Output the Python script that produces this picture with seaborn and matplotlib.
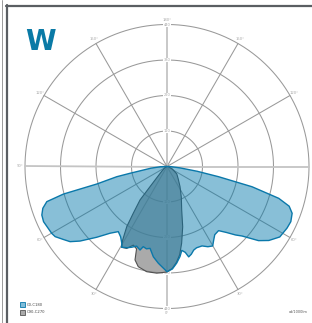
import numpy as np
import matplotlib
matplotlib.use("Agg")
import matplotlib.pyplot as plt
import seaborn as sns
from matplotlib.lines import Line2D
from matplotlib.patches import Rectangle

# ---------------- data ----------------
# C0 half-plane (right side), angle from nadir in degrees -> cd/1000lm
c0_deg = [0, 3, 5.7, 8.2, 10, 12, 13.5, 15.5, 17.7, 20, 23.8, 27, 29.9, 32.4, 35, 38.8,
          42, 45, 47.2, 51, 54, 58, 62.8, 66, 69.5, 72, 74.1, 76.6, 78.8, 81, 84, 88, 90]
c0_cd = [326, 318, 301, 282, 264, 272, 288, 282, 272, 268, 269, 279, 284, 270, 258, 255,
         275, 300, 317, 365, 390, 412, 418, 420, 414, 398, 360, 271, 163, 95, 40, 12, 0]
# C180 half-plane (left side)
c180_deg = [0, 5.1, 8.6, 11.7, 14, 16.5, 17.9, 20.9, 23.6, 26, 28.4, 29.3, 30.5, 33.4, 36.8,
            40.5, 44.8, 49.4, 52.2, 54.9, 57.9, 59.9, 62.5, 65.9, 68.8, 71.4, 73.7, 75.1, 76,
            78.5, 79.6, 84, 88, 90]
c180_cd = [326, 301, 283, 259, 263, 259, 272, 264, 273, 280, 285, 287, 276, 261, 252,
           272, 309, 355, 380, 393, 409, 413, 415, 419, 416, 406, 388, 332, 224,
           159, 117, 50, 20, 0]
# C90 half-plane (right side)
c90_deg = [0, 3, 5.7, 8.2, 10.8, 14.6, 18.7, 25, 33, 42, 53, 65, 80, 90]
c90_cd = [327, 316, 298, 276, 242, 193, 142, 105, 74, 52, 38, 18, 5, 0]
# C270 half-plane (left side)
c270_deg = [0, 5.5, 10.9, 16, 18.9, 20.3, 23.2, 26.2, 29.3, 31.1, 33.8, 35.8, 38.9, 40.1,
            42, 48, 60, 90]
c270_cd = [327, 332, 332, 323, 306, 272, 265, 283, 287, 266, 224, 179, 133, 82,
           50, 22, 8, 0]

ring_values = [110, 220, 330, 440]
angle_ticks = [0, 30, 60, 90, 120, 150, 180]
legend_labels = ["C0-C180", "C90-C270"]
title_text = "W"
unit_text = "cd/1000lm"

# ---------------- style ----------------
sns.set_style("white")
plt.rcParams["font.family"] = ["DejaVu Sans"]

W, H = 312, 323
fig = plt.figure(figsize=(W / 100, H / 100), dpi=100)

cx, cy, rad = 167, 166.5, 142
ax = fig.add_axes([(cx - rad) / W, 1 - (cy + rad) / H, 2 * rad / W, 2 * rad / H],
                  projection="polar")
ax.set_theta_zero_location("S")
ax.set_theta_direction(1)
ax.set_ylim(0, 440)
ax.set_xticks([])
ax.set_yticks([])
ax.grid(False)
ax.spines["polar"].set_visible(False)
ax.patch.set_alpha(0)

# rings
tt = np.linspace(0, 2 * np.pi, 500)
for v in ring_values:
    ax.plot(tt, np.full_like(tt, v), color="#999999", lw=0.75, zorder=1, clip_on=False)

# spokes
for a in range(0, 360, 30):
    major = a % 90 == 0
    ax.plot([np.deg2rad(a)] * 2, [0, 440], color="#c4c4c4" if major else "#999999",
            lw=1.3 if major else 0.75, zorder=1, clip_on=False)

# ring labels on the vertical axis
for v in ring_values:
    for th in (0, np.pi):
        ax.text(th, v, str(v), fontsize=2.6, color="#a8a8a8", ha="center", va="center",
                zorder=1.5, bbox=dict(fc="white", ec="none", pad=0.25))

# angle labels
for a in angle_ticks:
    sides = [a] if a in (0, 180) else [a, -a]
    for s in sides:
        if s == 90:
            continue
        ax.text(np.deg2rad(s), 455, f"{a}°", fontsize=2.7, color="#a8a8a8",
                ha="center", va="center", clip_on=False)


def closed(left_deg, left_cd, right_deg, right_cd):
    th = np.concatenate([-np.array(left_deg, float)[::-1], np.array(right_deg, float)[1:]])
    r = np.concatenate([np.array(left_cd, float)[::-1], np.array(right_cd, float)[1:]])
    return np.deg2rad(th), r


th_g, r_g = closed(c270_deg, c270_cd, c90_deg, c90_cd)
th_b, r_b = closed(c180_deg, c180_cd, c0_deg, c0_cd)

ax.fill(th_g, r_g, color="#868686", alpha=0.7, lw=0, zorder=2)
sns.lineplot(x=th_g, y=r_g, ax=ax, sort=False, estimator=None, color="#505050",
             lw=0.8, zorder=3)
ax.fill(th_b, r_b, color="#0378aa", alpha=0.47, lw=0, zorder=4)
sns.lineplot(x=th_b, y=r_b, ax=ax, sort=False, estimator=None, color="#0a78aa",
             lw=1.0, zorder=5)
ax.set_xlabel("")
ax.set_ylabel("")
ax.set_xticks([])
ax.set_yticks([])
ax.set_ylim(0, 440)

# title letter
fig.text(25 / W, 1 - 50.5 / H, title_text, fontsize=20, fontweight="bold",
         color="#0a7aa6", ha="left", va="baseline")

# legend
leg_fc = ["#80bcd8", "#aaaaaa"]
leg_ec = ["#0a78aa", "#555555"]
for i, (lab, fc, ec) in enumerate(zip(legend_labels, leg_fc, leg_ec)):
    y0 = 302 + i * 7.5
    fig.add_artist(Rectangle((20 / W, 1 - (y0 + 5) / H), 5 / W, 5 / H,
                             transform=fig.transFigure, fc=fc, ec=ec, lw=0.6))
    fig.text(27 / W, 1 - (y0 + 2.5) / H, lab, fontsize=2.7, color="#444444",
             ha="left", va="center")

# unit
fig.text(308 / W, 1 - 312 / H, unit_text, fontsize=2.5, color="#555555",
         ha="right", va="center")

# frame
fig.add_artist(Line2D([7 / W, 7 / W], [0, 1 - 5 / H], transform=fig.transFigure,
                      color="#5a5e62", lw=1.6))
fig.add_artist(Line2D([6.2 / W, 1], [1 - 5.8 / H, 1 - 5.8 / H], transform=fig.transFigure,
                      color="#5a5e62", lw=1.6))
fig.add_artist(Line2D([1.8 / W, 1.8 / W], [0, 1], transform=fig.transFigure,
                      color="#8a8a8a", lw=0.6))

fig.savefig("out.png", dpi=100)
